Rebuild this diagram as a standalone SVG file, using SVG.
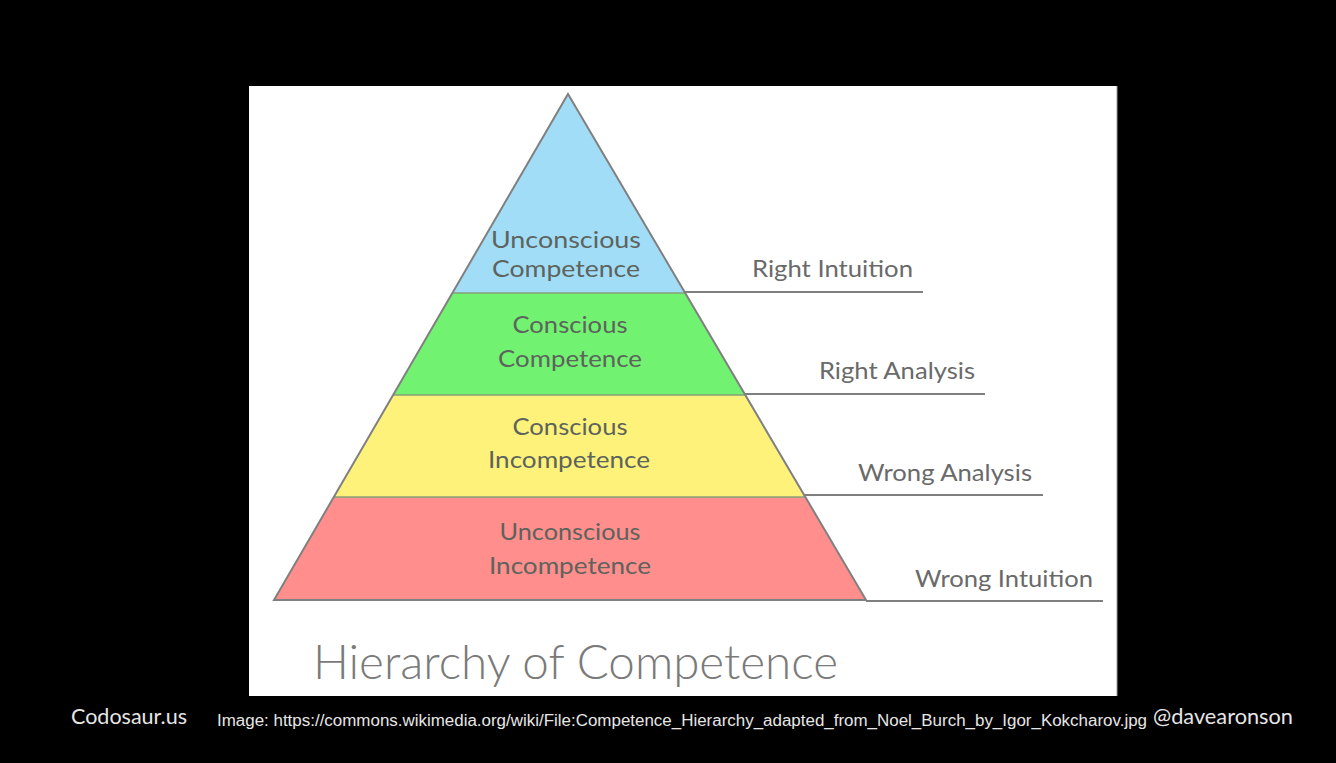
<svg xmlns="http://www.w3.org/2000/svg" width="1336" height="763" viewBox="0 0 1336 763">
  <style>
    .lbl { font-family: Lato, "Open Sans", "Liberation Sans", sans-serif; font-size: 24px; fill: #5d635d; text-anchor: middle; }
    .side { font-family: Lato, "Open Sans", "Liberation Sans", sans-serif; font-size: 23px; fill: #6a6a6a; text-anchor: start; }
    .lead { stroke: #7f7f7f; stroke-width: 2; fill: none; }
    .div { stroke: #86a07a; stroke-width: 1.5; }
    .foot { font-family: Lato, "Open Sans", "Liberation Sans", sans-serif; font-size: 22px; fill: #e6e6e6; }
  </style>
  <rect x="0" y="0" width="1336" height="763" fill="#000000"/>
  <rect x="249" y="86" width="868" height="610" fill="#ffffff"/>
  <line x1="1117" y1="86" x2="1117" y2="696" stroke="#9a9a9a" stroke-width="1"/>

  <g id="unconscious-competence">
    <polygon points="568,94 685.2,293 452.4,293" fill="#a2ddf8"/>
    <text class="lbl" x="566" y="248" textLength="150" lengthAdjust="spacingAndGlyphs">Unconscious</text>
    <text class="lbl" x="566" y="277" textLength="148" lengthAdjust="spacingAndGlyphs">Competence</text>
  </g>
  <g id="conscious-competence">
    <polygon points="452.4,293 685.2,293 745.3,395 393.1,395" fill="#72f271"/>
    <text class="lbl" x="570" y="333" textLength="115" lengthAdjust="spacingAndGlyphs">Conscious</text>
    <text class="lbl" x="570" y="367" textLength="144" lengthAdjust="spacingAndGlyphs">Competence</text>
  </g>
  <g id="conscious-incompetence">
    <polygon points="393.1,395 745.3,395 805.3,497 333.9,497" fill="#fff27a"/>
    <text class="lbl" x="570" y="435" textLength="115" lengthAdjust="spacingAndGlyphs">Conscious</text>
    <text class="lbl" x="569" y="468" textLength="162" lengthAdjust="spacingAndGlyphs">Incompetence</text>
  </g>
  <g id="unconscious-incompetence">
    <polygon points="333.9,497 805.3,497 866,600 274,600" fill="#ff8e8c"/>
    <text class="lbl" x="570" y="540" textLength="141" lengthAdjust="spacingAndGlyphs">Unconscious</text>
    <text class="lbl" x="570" y="574" textLength="162" lengthAdjust="spacingAndGlyphs">Incompetence</text>
  </g>

  <g id="outline">
    <line class="div" x1="452.4" y1="293" x2="685.2" y2="293"/>
    <line class="div" x1="393.1" y1="395" x2="745.3" y2="395"/>
    <line class="div" x1="333.9" y1="497" x2="805.3" y2="497"/>
    <polygon points="568,94 866,600 274,600" fill="none" stroke="#808080" stroke-width="2" stroke-linejoin="miter"/>
  </g>

  <g id="connectors">
    <line class="lead" x1="685" y1="292" x2="923" y2="292"/>
    <line class="lead" x1="745" y1="394" x2="985" y2="394"/>
    <line class="lead" x1="805" y1="495" x2="1043" y2="495"/>
    <line class="lead" x1="866" y1="601" x2="1103" y2="601"/>
  </g>

  <g id="right-intuition">
    <text class="side" x="752" y="277" textLength="161" lengthAdjust="spacingAndGlyphs">Right Intuition</text>
  </g>
  <g id="right-analysis">
    <text class="side" x="819" y="379" textLength="156" lengthAdjust="spacingAndGlyphs">Right Analysis</text>
  </g>
  <g id="wrong-analysis">
    <text class="side" x="858" y="481" textLength="174" lengthAdjust="spacingAndGlyphs">Wrong Analysis</text>
  </g>
  <g id="wrong-intuition">
    <text class="side" x="915" y="587" textLength="178" lengthAdjust="spacingAndGlyphs">Wrong Intuition</text>
  </g>

  <g id="title">
    <text x="313" y="679" font-family="Lato, 'Open Sans', 'Liberation Sans', sans-serif" font-weight="300" font-size="47" fill="#7a7a7a" textLength="525" lengthAdjust="spacingAndGlyphs">Hierarchy of Competence</text>
  </g>

  <g id="footer">
    <text class="foot" x="71" y="724" textLength="116" lengthAdjust="spacingAndGlyphs">Codosaur.us</text>
    <text x="217" y="726" font-family="'Liberation Sans', Arial, sans-serif" font-size="16" fill="#e6e6e6" textLength="930" lengthAdjust="spacingAndGlyphs">Image: https://commons.wikimedia.org/wiki/File:Competence_Hierarchy_adapted_from_Noel_Burch_by_Igor_Kokcharov.jpg</text>
    <text class="foot" x="1153" y="724" textLength="140" lengthAdjust="spacingAndGlyphs">@davearonson</text>
  </g>
</svg>
